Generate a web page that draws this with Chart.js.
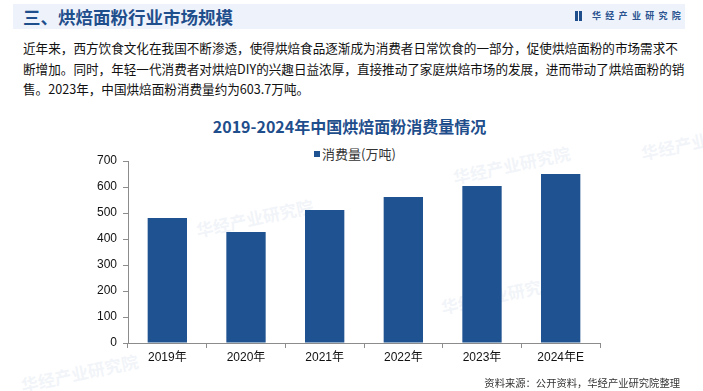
<!DOCTYPE html>
<html>
<head>
<meta charset="utf-8">
<script src="https://cdn.jsdelivr.net/npm/chart.js@4.4.0/dist/chart.umd.min.js"></script>
<style>
  body { margin: 0; width: 703px; height: 391px; background: #fff; position: relative; overflow: hidden;
         font-family: "Noto Sans CJK SC", "Liberation Sans", sans-serif; }
  .band { position: absolute; left: 13px; top: 4px; width: 672px; height: 25px; background: #eef3fb; }
  .head { position: absolute; left: 23px; top: 4px; line-height: 25px; font-size: 17.5px; font-weight: bold; color: #1f4e8c; }
  .logo { position: absolute; left: 575px; top: 10px; height: 12px; }
  .logo i { position: absolute; top: 1px; width: 3px; height: 10px; background: #1f4e8c; }
  .logo span { position: absolute; left: 17px; top: -2px; white-space: nowrap; font-size: 9px; font-weight: bold;
               letter-spacing: 4.3px; color: #2a5390; line-height: 16px; }
  .para { position: absolute; left: 23px; top: 38px; font-size: 12.6px; line-height: 20.7px; color: #111; white-space: nowrap; }
  .ctitle { position: absolute; left: 0; width: 703px; top: 114px; text-align: center; font-size: 16px; font-weight: bold;
            color: #1f4e8c; line-height: 24px; padding-right: 4px; box-sizing: border-box; }
  .legend { position: absolute; left: 314px; top: 145px; font-size: 13px; line-height: 18px; color: #333; white-space: nowrap; }
  .legend b { display: inline-block; width: 6px; height: 6px; background: #1f5290; margin-right: 2px; vertical-align: 2px; }
  .src { position: absolute; right: 23px; top: 375px; font-size: 10.3px; line-height: 16px; color: #333; white-space: nowrap; }
  .wm { position: absolute; font-size: 17px; font-weight: bold; color: rgba(200,212,230,0.25); transform: rotate(-12deg); white-space: nowrap; }
  #wrap { position: absolute; left: 0; top: 100px; width: 703px; height: 291px; }
</style>
</head>
<body>
<div class="wm" style="left:195px;top:205px">华经产业研究院</div>
<div class="wm" style="left:452px;top:152px">华经产业研究院</div>
<div class="wm" style="left:440px;top:282px">华经产业研究院</div>
<div class="wm" style="left:20px;top:360px">华经产业研究院</div>
<div class="wm" style="left:640px;top:128px">华经产业研究院</div>

<div class="band"></div>
<div class="head">三、烘焙面粉行业市场规模</div>
<div class="logo"><i style="left:0"></i><i style="left:4px"></i><span>华经产业研究院</span></div>

<div class="para">近年来，西方饮食文化在我国不断渗透，使得烘焙食品逐渐成为消费者日常饮食的一部分，促使烘焙面粉的市场需求不<br>断增加。同时，年轻一代消费者对烘焙DIY的兴趣日益浓厚，直接推动了家庭烘焙市场的发展，进而带动了烘焙面粉的销<br>售。2023年，中国烘焙面粉消费量约为603.7万吨。</div>

<div class="ctitle">2019-2024年中国烘焙面粉消费量情况</div>
<div class="legend"><b></b>消费量(万吨)</div>

<div id="wrap"><canvas id="myChart"></canvas></div>

<div class="src">资料来源：公开资料，华经产业研究院整理</div>

<script>
// data
const years = ["2019年", "2020年", "2021年", "2022年", "2023年", "2024年E"];
const consumption = [481, 427, 512, 562, 603.7, 650];
const yTicks = [0, 100, 200, 300, 400, 500, 600, 700];

const axisColor = "#8c8c8c";
const tickFont = { family: "'Liberation Sans', 'Noto Sans CJK SC', sans-serif", size: 12 };

const ctx = document.getElementById("myChart").getContext("2d");
const myChart = new Chart(ctx, {
  type: "bar",
  data: {
    labels: years,
    datasets: [
      {
        label: "消费量(万吨)",
        data: consumption,
        backgroundColor: "#1f5290",
        barPercentage: 0.5,
        categoryPercentage: 1,
      },
    ],
  },
  options: {
    responsive: true,
    maintainAspectRatio: false,
    animation: false,
    layout: { padding: { top: 61, left: 88, right: 103, bottom: 18 } },
    plugins: {
      legend: { display: false },
      tooltip: { enabled: false },
    },
    scales: {
      x: {
        grid: { offset: true, drawOnChartArea: false, drawTicks: true, tickLength: 5, color: axisColor },
        border: { color: axisColor, width: 1 },
        ticks: { color: "#111", font: tickFont, padding: 2 },
        afterFit: (s) => { s.height = 30; },
      },
      y: {
        min: 0,
        max: 700,
        afterBuildTicks: (s) => { s.ticks = yTicks.map((v) => ({ value: v })); },
        grid: { drawOnChartArea: false, drawTicks: true, tickLength: 5, color: axisColor },
        border: { color: axisColor, width: 1 },
        ticks: { color: "#111", font: tickFont, padding: 6 },
        afterFit: (s) => { s.width = 40; },
      },
    },
  },
});
</script>
</body>
</html>
